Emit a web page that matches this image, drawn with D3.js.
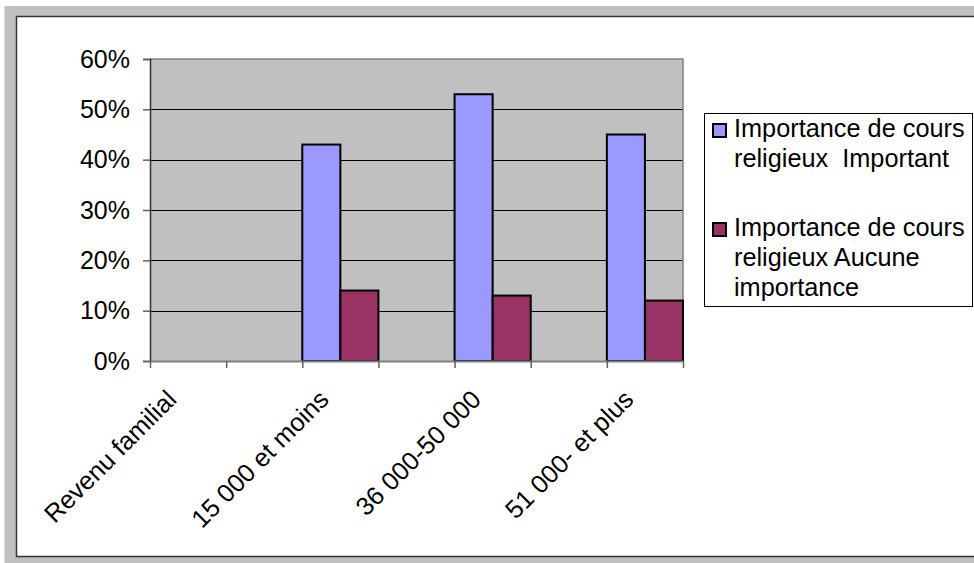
<!DOCTYPE html>
<html>
<head>
<meta charset="utf-8">
<script src="https://cdn.jsdelivr.net/npm/d3@7/dist/d3.min.js"></script>
<style>
  html, body { margin: 0; padding: 0; background: #ffffff; }
  svg { display: block; font-family: "Liberation Sans", Arial, sans-serif; }
  text { white-space: pre; }
</style>
</head>
<body>
<svg id="chart" width="974" height="563"></svg>
<script>
// Income brackets (unlabelled brackets carry no data)
const categories = ["Revenu familial", "", "15 000 et moins", "", "36 000-50 000", "", "51 000- et plus"];
const seriesNames = ["Importance de cours\nreligieux  Important", "Importance de cours\nreligieux Aucune\nimportance"];
const important = [null, null, 0.43, null, 0.53, null, 0.45];
const aucune = [null, null, 0.14, null, 0.13, null, 0.12];
const yTicks = [0, 0.1, 0.2, 0.3, 0.4, 0.5, 0.6];
const colors = ["#9999FF", "#993366"];

const series = [important, aucune];

const svg = d3.select("#chart");

// Outer frame
svg.append("rect").attr("x", 4.5).attr("y", 6).attr("width", 970).attr("height", 557).attr("fill", "#C0C0C0");
svg.append("rect").attr("x", 16.5).attr("y", 16.5).attr("width", 970).attr("height", 540)
  .attr("fill", "#ffffff").attr("stroke", "#333333").attr("stroke-width", 1.5);

const plot = { left: 150, right: 683, top: 59, bottom: 361 };

const x = d3.scaleBand().domain(d3.range(categories.length)).range([plot.left, plot.right]).padding(0);
const xSub = d3.scaleBand().domain(d3.range(series.length)).range([0, x.bandwidth()]).padding(0);
const xEdges = d3.scaleLinear().domain([0, categories.length]).range([plot.left, plot.right]);
const y = d3.scaleLinear().domain([0, 0.6]).range([plot.bottom, plot.top]);

// Plot background
svg.append("rect")
  .attr("x", plot.left).attr("y", plot.top)
  .attr("width", plot.right - plot.left).attr("height", plot.bottom - plot.top)
  .attr("fill", "#C0C0C0");

// Gridlines
svg.append("g").selectAll("line")
  .data(yTicks.filter(d => d > 0 && d < 0.6))
  .join("line")
  .attr("x1", plot.left).attr("x2", plot.right)
  .attr("y1", d => Math.round(y(d)) + 0.5).attr("y2", d => Math.round(y(d)) + 0.5)
  .attr("stroke", "#000000").attr("stroke-width", 1);

// Plot border (top and right)
svg.append("path")
  .attr("d", `M${plot.left},${plot.top}H${plot.right}V${plot.bottom}`)
  .attr("fill", "none").attr("stroke", "#808080").attr("stroke-width", 1.5);

// Bars
const groups = svg.append("g").selectAll("g")
  .data(series)
  .join("g")
  .attr("fill", (d, i) => colors[i]);

groups.each(function (vals, si) {
  d3.select(this).selectAll("rect")
    .data(vals.map((v, ci) => ({ v, ci })).filter(d => d.v != null))
    .join("rect")
    .attr("x", d => x(d.ci) + xSub(si))
    .attr("width", xSub.bandwidth())
    .attr("y", d => y(d.v))
    .attr("height", d => y(0) - y(d.v))
    .attr("stroke", "#000000")
    .attr("stroke-width", 2);
});

// Y axis
const yAxis = svg.append("g")
  .attr("transform", `translate(${plot.left},0)`)
  .call(d3.axisLeft(y).tickValues(yTicks).tickFormat(d3.format(".0%")).tickSize(7).tickPadding(13));
yAxis.select(".domain").attr("stroke", "#303030").attr("stroke-width", 1.5);
yAxis.selectAll(".tick line").attr("stroke", "#606060").attr("stroke-width", 1.5);
yAxis.selectAll(".tick text").attr("font-size", 25).attr("fill", "#000").attr("font-family", "Liberation Sans, Arial, sans-serif");

// X axis (ticks between categories)
const xAxis = svg.append("g")
  .attr("transform", `translate(0,${plot.bottom})`)
  .call(d3.axisBottom(xEdges).tickValues(d3.range(categories.length + 1)).tickFormat("").tickSize(7).tickSizeOuter(0));
xAxis.select(".domain").attr("stroke", "#808080").attr("stroke-width", 2);
xAxis.selectAll(".tick line").attr("stroke", "#606060").attr("stroke-width", 1.5);

// Rotated category labels
svg.append("g").selectAll("text")
  .data(categories.map((c, i) => ({ c, i })).filter(d => d.c))
  .join("text")
  .attr("transform", d => `translate(${x(d.i) + x.bandwidth() / 2 - 10},${plot.bottom + 40}) rotate(-45)`)
  .attr("text-anchor", "end")
  .attr("font-size", 25.5)
  .attr("fill", "#000")
  .text(d => d.c);

// Legend
const legend = svg.append("g");
legend.append("rect")
  .attr("x", 704.5).attr("y", 113.5).attr("width", 268).attr("height", 193)
  .attr("fill", "#ffffff").attr("stroke", "#000000").attr("stroke-width", 1);

const legendTop = [137, 236];
const lineH = 30;
seriesNames.forEach((name, i) => {
  legend.append("rect")
    .attr("x", 713).attr("y", legendTop[i] - 13).attr("width", 13).attr("height", 13)
    .attr("fill", colors[i]).attr("stroke", "#000").attr("stroke-width", 2);
  const t = legend.append("text")
    .attr("x", 734).attr("y", legendTop[i])
    .attr("font-size", 25.3).attr("fill", "#000");
  name.split("\n").forEach((line, j) => {
    t.append("tspan").attr("x", 734).attr("y", legendTop[i] + j * lineH).text(line);
  });
});
</script>
</body>
</html>
